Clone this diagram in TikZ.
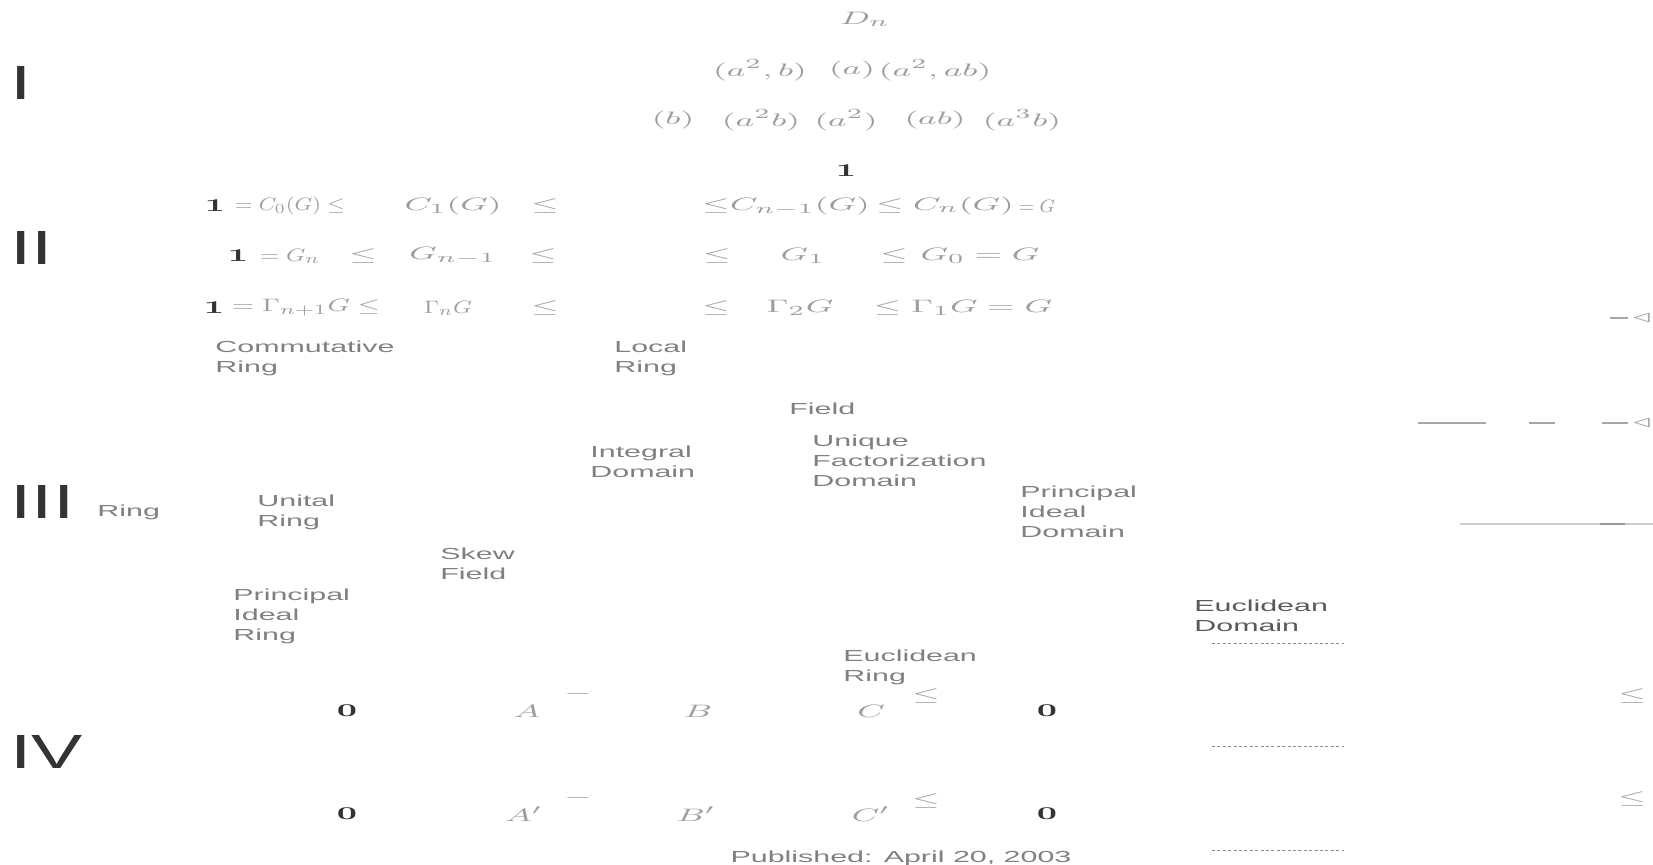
\documentclass[tikz,border=0pt]{standalone}
\usepackage[no-math]{fontspec}
\usepackage{graphicx}
\setmainfont{Liberation Sans}
\newfontfamily\wsans[FakeStretch=1.9]{Liberation Sans}
\newfontfamily\wlbl[FakeStretch=1.6]{Liberation Sans}
\newcommand\M[1]{\scalebox{1.9}[1]{$#1$}}
\newcommand\Mw[2]{\resizebox{#1pt}{\height}{$#2$}}
\begin{document}
\begin{tikzpicture}[x=0.5pt,y=-0.5pt,
  lbl/.style={font=\wlbl\fontsize{24}{28}\selectfont, text=black!80, inner sep=0pt},
  ttl/.style={font=\wsans\fontsize{8}{10}\selectfont, text=black!50, align=left, inner sep=0pt, anchor=north west},
  ttldark/.style={ttl, text=black!65},
  mth/.style={font=\fontsize{9.3}{11}\selectfont, text=black!38, inner sep=0pt},
  blob/.style={font=\fontsize{9.3}{11}\selectfont, text=black!80, inner sep=0pt},
  frag/.style={draw=black!35, line width=0.6pt},
  dots/.style={draw=black!45, line width=0.5pt, dash pattern=on 1.5pt off 1.2pt}]
\useasboundingbox (0,0) rectangle (1653,864);

% section labels
\node[lbl,anchor=west] (L1) at (10,83) {I};
\node[lbl,anchor=west] (L2) at (10,248) {II};
\node[lbl,anchor=west] (L3) at (10,502) {III};
\node[lbl,anchor=west] (L4) at (10,752) {IV};

% I: subgroup lattice
\node[mth] (Dn) at (865,19) {\M{D_n}};
\node[mth] (s1) at (760,70) {\M{(a^2,b)}};
\node[mth] (s2) at (852,70) {\M{(a)}};
\node[mth] (s3) at (935,70) {\M{(a^2,ab)}};
\node[mth] (t1) at (673,120) {\M{(b)}};
\node[mth] (t2) at (761,120) {\M{(a^2b)}};
\node[mth] (t3) at (846,120) {\M{(a^2)}};
\node[mth] (t4) at (935,120) {\M{(ab)}};
\node[mth] (t5) at (1022,120) {\M{(a^3b)}};
\node[blob] (e) at (846,171) {\M{\mathbf{1}}};

% II: series
\node[blob] (a0) at (215,206) {\M{\mathbf{1}}};
\node[mth] (a1) at (290,206) {\Mw{55}{=C_0(G)\le}};
\node[mth] (a2) at (453,206) {\M{C_1(G)}};
\node[mth] (a3) at (545,206) {\M{\le}};
\node[mth] (a4) at (716,206) {\M{\le}};
\node[mth] (a5) at (800,206) {\M{C_{n-1}(G)}};
\node[mth] (a6) at (945,206) {\M{\le C_n(G)}};
\node[mth] (a7) at (1037,206) {\Mw{18}{=G}};

\node[blob] (b0) at (238,256) {\M{\mathbf{1}}};
\node[mth] (b1) at (290,256) {\Mw{30}{=G_n}};
\node[mth] (b2) at (363,256) {\M{\le}};
\node[mth] (b3) at (453,256) {\M{G_{n-1}}};
\node[mth] (b4) at (543,256) {\M{\le}};
\node[mth] (b5) at (717,256) {\M{\le}};
\node[mth] (b6) at (803,256) {\M{G_1}};
\node[mth] (b7) at (894,256) {\M{\le}};
\node[mth] (b8) at (980,256) {\M{G_0=G}};

\node[blob] (c0) at (214,308) {\M{\mathbf{1}}};
\node[mth] (c1) at (306,308) {\Mw{74}{=\Gamma_{n+1}G\le}};
\node[mth] (c2) at (448,308) {\Mw{24}{\Gamma_nG}};
\node[mth] (c3) at (545,308) {\M{\le}};
\node[mth] (c4) at (716,308) {\M{\le}};
\node[mth] (c5) at (800,308) {\M{\Gamma_2G}};
\node[mth] (c6) at (963,308) {\M{\le\Gamma_1G=G}};

% III: ring classes
\node[ttl] (CR) at (215,340) {Commutative\\Ring};
\node[ttl] (LR) at (614,340) {Local\\Ring};
\node[ttl] (F) at (789,402) {Field};
\node[ttl] (ID) at (590,445) {Integral\\Domain};
\node[ttl] (UFD) at (812,434) {Unique\\Factorization\\Domain};
\node[ttl] (PID) at (1020,485) {Principal\\Ideal\\Domain};
\node[ttl] (R) at (97,504) {Ring};
\node[ttl] (UR) at (257,494) {Unital\\Ring};
\node[ttl] (SF) at (440,547) {Skew\\Field};
\node[ttl] (PIR) at (233,588) {Principal\\Ideal\\Ring};
\node[ttldark] (ED) at (1194,599) {Euclidean\\Domain};
\node[ttl] (ER) at (843,649) {Euclidean\\Ring};

% IV: exact sequences
\node[blob] (z1) at (347,711) {\M{\mathbf{0}}};
\node[mth] (A) at (527,711) {\M{A}};
\node[mth] (B) at (698,711) {\M{B}};
\node[mth] (C) at (871,711) {\M{C}};
\node[blob] (z2) at (1047,711) {\M{\mathbf{0}}};
\node[mth] (q1) at (578,694) {\M{-}};
\node[mth] (l1) at (926,696) {\M{\le}};

\node[blob] (z3) at (347,814) {\M{\mathbf{0}}};
\node[mth] (A2) at (524,814) {\M{A'}};
\node[mth] (B2) at (696,814) {\M{B'}};
\node[mth] (C2) at (871,814) {\M{C'}};
\node[blob] (z4) at (1047,814) {\M{\mathbf{0}}};
\node[mth] (q2) at (578,798) {\M{-}};
\node[mth] (l2) at (926,801) {\M{\le}};

\node[ttl,anchor=north] (pub) at (901,850) {Published: April 20, 2003};

% right-hand fragments
\draw[frag] (1610,318) -- (1628,318);
\node[mth] (r1) at (1642,318) {\M{\triangleleft}};
\draw[frag] (1418,423) -- (1486,423);
\draw[frag] (1529,423) -- (1555,423);
\draw[frag] (1602,423) -- (1628,423);
\node[mth] (r2) at (1642,423) {\M{\triangleleft}};
\draw[draw=black!20, line width=1.2pt] (1460,524) -- (1653,524);
\draw[draw=black!40, line width=1.2pt] (1600,524) -- (1625,524);
\node[mth] (r3) at (1632,696) {\M{\le}};
\node[mth] (r4) at (1632,799) {\M{\le}};

\draw[dots] (1212,643) -- (1344,643);
\draw[dots] (1212,746) -- (1344,746);
\draw[dots] (1212,850) -- (1344,850);
\end{tikzpicture}
\end{document}
